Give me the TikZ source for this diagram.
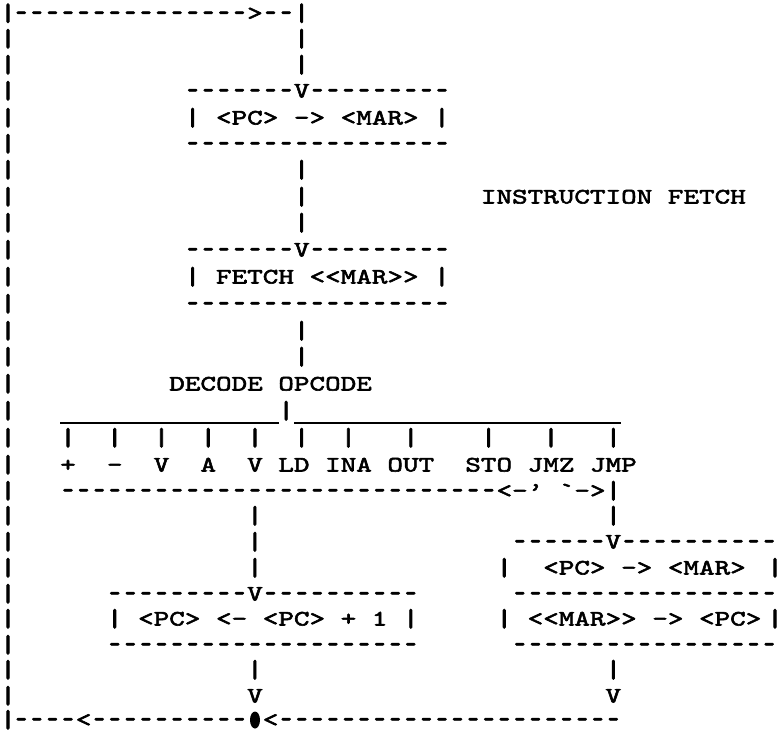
\documentclass[tikz,border=0pt]{standalone}
\usepackage{fontspec}
\usetikzlibrary{shapes.geometric}
\newfontfamily\asc{lmmono10-regular.otf}[FakeStretch=1.349,FakeBold=2.6,Ligatures=TeXOff]
\ExplSyntaxOn
\cs_new:Npn \myrep #1#2 {\prg_replicate:nn{#1}{#2}}
\ExplSyntaxOff
\newcommand\hy{\setbox0\hbox{-}\hbox to \wd0{\hss\raisebox{-1.8pt}{\scalebox{0.72}[1.35]{-}}\hss}}
\newcommand\vb{\setbox0\hbox{|}\hbox to \wd0{\hss\smash{\raisebox{-0.9pt}{\scalebox{1.15}[1.14]{|}}}\vphantom{|}\hss}}
\newcommand\dsh[1]{\myrep{#1}{\hy}}
\begin{document}
\begin{tikzpicture}[x=1pt,y=1pt,
  asc/.style={font=\asc\fontsize{22}{26}\selectfont, inner sep=0pt, outer sep=0pt, anchor=base west},
  ascc/.style={font=\asc\fontsize{22}{26}\selectfont, inner sep=0pt, outer sep=0pt, anchor=base},
  rule/.style={line width=2pt}]
\fill[white] (0,0) rectangle (783,-734);
\useasboundingbox (0,0) rectangle (783,-734);
% left bar
\foreach \y [count=\i from 0] in {-20,-45.5,-71.5,-97.5,-124.5,-150.5,-176.5,-203.5,-229.5,-256.5,-283.5,-310.5,-337.5,-363.5,-390.5,-417.5,-444.5,-471.5,-497.5,-522.5,-548.5,-574.5,-600.5,-625.5,-651.5,-676.5,-702.5,-726.5}
  \node[ascc] (bar\i) at (8,\y) {\vb};
% top line
\node[asc] (top) at ({15.58*1-2.09},-20) {\dsh{15}>\dsh{2}\vb};
% column 19 verticals
\foreach \y/\n in {-45.5/a,-71.5/b,-176.5/c,-203.5/d,-229.5/e,-337.5/f,-363.5/g}
  \node[asc] (vn\n) at ({15.58*19-2.09},\y) {\vb};
% box 1
\node[asc] (b1t) at ({15.58*12-2.09},-97.5) {\dsh{7}V\dsh{9}};
\node[asc] (b1) at ({15.58*12-2.09},-124.5) {\vb~<PC>~->~<MAR>~\vb};
\node[asc] (b1b) at ({15.58*12-2.09},-150.5) {\dsh{17}};
% label
\node[asc] (ifetch) at ({15.58*31-2.09},-203.5) {INSTRUCTION~FETCH};
% box 2
\node[asc] (b2t) at ({15.58*12-2.09},-256.5) {\dsh{7}V\dsh{9}};
\node[asc] (b2) at ({15.58*12-2.09},-283.5) {\vb~FETCH~<<MAR>>~\vb};
\node[asc] (b2b) at ({15.58*12-2.09},-310.5) {\dsh{17}};
% decode
\node[asc] (decode) at ({15.58*11-2.09},-390.5) {DECODE~OPCODE};
\node[asc] (vdec) at ({15.58*18-2.09},-417.5) {\vb};
\coordinate (ul1) at (60,-423);
\coordinate (ul2) at (279,-423);
\coordinate (ul3) at (294,-423);
\coordinate (ul4) at (621,-423);
\draw[rule] (ul1) -- (ul2);
\draw[rule] (ul3) -- (ul4);
\node[asc] (ticks) at ({15.58*4-2.09},-444.5) {\vb~~\vb~~\vb~~\vb~~\vb~~\vb~~\vb~~~\vb~~~~\vb~~~\vb~~~\vb};
\node[asc] (ops) at ({15.58*4-2.09},-471.5) {+~~-~~V~~A~~V~LD~INA~OUT~~STO~JMZ~JMP};
\node[asc] (ret) at ({15.58*4-2.09},-497.5) {\dsh{28}<-’~`->\vb};
% column 16 and 39 verticals
\foreach \y/\n in {-522.5/a,-548.5/b,-574.5/c,-676.5/d}
  \node[asc] (vl\n) at ({15.58*16-2.09},\y) {\vb};
\node[asc] (vla) at ({15.58*16-2.09},-702.5) {V};
\node[asc] (vra) at ({15.58*39-2.09},-522.5) {\vb};
\node[asc] (vrb) at ({15.58*39-2.09},-676.5) {\vb};
\node[asc] (vrc) at ({15.58*39-2.09},-702.5) {V};
% right box
\node[asc] (b4t) at ({15.58*33-2.09},-548.5) {\dsh{6}V\dsh{10}};
\node[asc] (b4a) at ({15.58*32-2.09},-574.5) {\vb~~<PC>~->~<MAR>};
\node[ascc] (b4ar) at (775,-574.5) {\vb};
\node[asc] (b4m) at ({15.58*33-2.09},-600.5) {\dsh{17}};
\node[asc] (b4b) at ({15.58*32-2.09},-625.5) {\vb~<<MAR>>~->~<PC>};
\node[ascc] (b4br) at (775,-625.5) {\vb};
\node[asc] (b4e) at ({15.58*33-2.09},-651.5) {\dsh{17}};
% left box
\node[asc] (b3t) at ({15.58*7-2.09},-600.5) {\dsh{9}V\dsh{10}};
\node[asc] (b3) at ({15.58*7-2.09},-625.5) {\vb~<PC>~<-~<PC>~+~1~\vb};
\node[asc] (b3b) at ({15.58*7-2.09},-651.5) {\dsh{20}};
% bottom line
\node[asc] (bot1) at ({15.58*1-2.09},-726.5) {\dsh{4}<\dsh{10}};
\node[ellipse, fill=black, minimum width=10pt, minimum height=17pt, inner sep=0pt] (dot) at (255,-720) {};
\node[asc] (bot2) at ({15.58*17-2.09},-726.5) {<\dsh{22}};
\end{tikzpicture}
\end{document}
